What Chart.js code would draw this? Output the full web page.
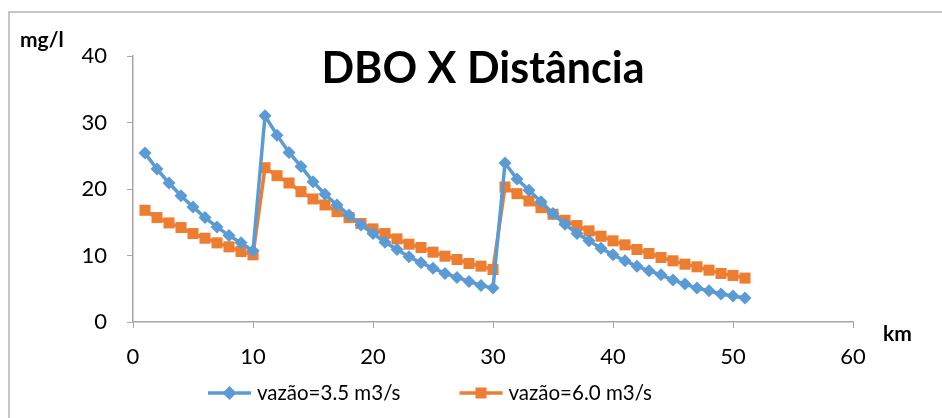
<!DOCTYPE html>
<html>
<head>
<meta charset="utf-8">
<script src="https://cdn.jsdelivr.net/npm/chart.js@4/dist/chart.umd.min.js"></script>
<style>
  html, body { margin: 0; padding: 0; background: #fff; }
  #wrap { position: relative; width: 942px; height: 418px; }
</style>
</head>
<body>
<div id="wrap"><canvas id="dboChart" width="942" height="418"></canvas></div>
<script>
// distance along the river (km)
const distKm = [1, 2, 3, 4, 5, 6, 7, 8, 9, 10,
  11, 12, 13, 14, 15, 16, 17, 18, 19, 20,
  21, 22, 23, 24, 25, 26, 27, 28, 29, 30,
  31, 32, 33, 34, 35, 36, 37, 38, 39, 40,
  41, 42, 43, 44, 45, 46, 47, 48, 49, 50, 51];

// DBO (mg/l) for flow 3.5 m3/s
const dbo35 = [25.4, 23.0, 20.9, 19.0, 17.3, 15.7, 14.3, 13.0, 11.9, 10.7,
  31.0, 28.1, 25.5, 23.4, 21.1, 19.2, 17.6, 16.1, 14.6, 13.3,
  12.0, 10.9, 9.8, 8.9, 8.1, 7.3, 6.7, 6.1, 5.5, 5.1,
  23.9, 21.5, 19.8, 18.1, 16.3, 14.7, 13.3, 12.2, 11.1, 10.1,
  9.2, 8.4, 7.7, 7.1, 6.3, 5.7, 5.1, 4.7, 4.2, 3.9, 3.6];

// DBO (mg/l) for flow 6.0 m3/s
const dbo60 = [16.8, 15.7, 14.9, 14.2, 13.3, 12.6, 11.9, 11.3, 10.6, 10.1,
  23.2, 22.0, 20.9, 19.6, 18.5, 17.6, 16.6, 15.7, 14.8, 14.0,
  13.3, 12.5, 11.7, 11.2, 10.5, 9.9, 9.4, 8.8, 8.4, 7.9,
  20.3, 19.3, 18.2, 17.2, 16.2, 15.3, 14.5, 13.7, 12.9, 12.2,
  11.6, 10.9, 10.3, 9.7, 9.2, 8.7, 8.3, 7.8, 7.3, 7.0, 6.6];

const seriesNames = ['vazão=3.5 m3/s', 'vazão=6.0 m3/s'];
const chartTitle = 'DBO X Distância';
const yUnit = 'mg/l';
const xUnit = 'km';

const FONT = "Lato, 'Liberation Sans', Arial, sans-serif";
const BLUE = '#5b9bd5';
const ORANGE = '#ed7d31';
const AXIS = '#a6a6a6';

const toPoints = (ys) => distKm.map((x, i) => ({ x: x, y: ys[i] }));

// title, unit labels, frame and legend (line + marker like Excel)
const decorPlugin = {
  id: 'decor',
  afterDraw(chart) {
    const ctx = chart.ctx;
    ctx.save();

    // outer frame (only top + left visible)
    ctx.strokeStyle = '#b4b4b4';
    ctx.lineWidth = 1.5;
    ctx.beginPath();
    ctx.moveTo(9, 420);
    ctx.lineTo(9, 12);
    ctx.lineTo(945, 12);
    ctx.stroke();

    ctx.fillStyle = '#000';
    ctx.textBaseline = 'alphabetic';

    ctx.font = 'bold 43px ' + FONT;
    ctx.textAlign = 'center';
    ctx.fillText(chartTitle, 483, 83);

    ctx.font = 'bold 21px ' + FONT;
    ctx.textAlign = 'left';
    ctx.fillText(yUnit, 20, 47);
    ctx.fillText(xUnit, 883, 341);

    // legend
    ctx.font = '20.5px ' + FONT;
    const lineLen = 43, gapText = 6, gapItem = 59;
    const w = seriesNames.map(t => lineLen + gapText + ctx.measureText(t).width);
    let x = 430 - (w[0] + gapItem + w[1]) / 2;
    const y = 393;
    chart.data.datasets.forEach((ds, i) => {
      ctx.strokeStyle = ds.borderColor;
      ctx.lineWidth = 3.5;
      ctx.beginPath();
      ctx.moveTo(x, y);
      ctx.lineTo(x + lineLen, y);
      ctx.stroke();
      const cx = x + lineLen / 2;
      ctx.fillStyle = ds.borderColor;
      ctx.beginPath();
      if (ds.pointStyle === 'rectRot') {
        ctx.moveTo(cx, y - 7);
        ctx.lineTo(cx + 7, y);
        ctx.lineTo(cx, y + 7);
        ctx.lineTo(cx - 7, y);
      } else {
        ctx.rect(cx - 5.5, y - 5.5, 11, 11);
      }
      ctx.closePath();
      ctx.fill();
      ctx.fillStyle = '#000';
      ctx.textAlign = 'left';
      ctx.textBaseline = 'middle';
      ctx.fillText(ds.label, x + lineLen + gapText, y);
      x += w[i] + gapItem;
    });
    ctx.restore();
  }
};

new Chart(document.getElementById('dboChart'), {
  type: 'line',
  data: {
    datasets: [
      {
        label: seriesNames[0],
        data: toPoints(dbo35),
        borderColor: BLUE,
        backgroundColor: BLUE,
        borderWidth: 3.5,
        pointStyle: 'rectRot',
        pointRadius: 6.5,
        pointBorderWidth: 0,
        tension: 0
      },
      {
        label: seriesNames[1],
        data: toPoints(dbo60),
        borderColor: ORANGE,
        backgroundColor: ORANGE,
        borderWidth: 3.5,
        pointStyle: 'rect',
        pointRadius: 7.8,
        pointBorderWidth: 0,
        tension: 0
      }
    ]
  },
  options: {
    responsive: false,
    animation: false,
    layout: { padding: { left: 0, right: 89, top: 56, bottom: 0 } },
    plugins: {
      legend: { display: false },
      title: { display: false },
      tooltip: { enabled: false }
    },
    scales: {
      x: {
        type: 'linear',
        min: 0,
        max: 60,
        ticks: { stepSize: 10, color: '#000', font: { family: FONT, size: 22 }, padding: 16, maxRotation: 0 },
        grid: { drawOnChartArea: false, drawTicks: true, tickLength: 6, color: AXIS },
        border: { color: AXIS, width: 1.5 },
        afterFit(scale) { scale.height = 96; }
      },
      y: {
        min: 0,
        max: 40,
        ticks: { stepSize: 10, color: '#000', font: { family: FONT, size: 22 }, padding: 20 },
        grid: { drawOnChartArea: false, drawTicks: true, tickLength: 6, color: AXIS },
        border: { color: AXIS, width: 1.5 },
        afterFit(scale) { scale.width = 133; }
      }
    }
  },
  plugins: [decorPlugin]
});
</script>
</body>
</html>
